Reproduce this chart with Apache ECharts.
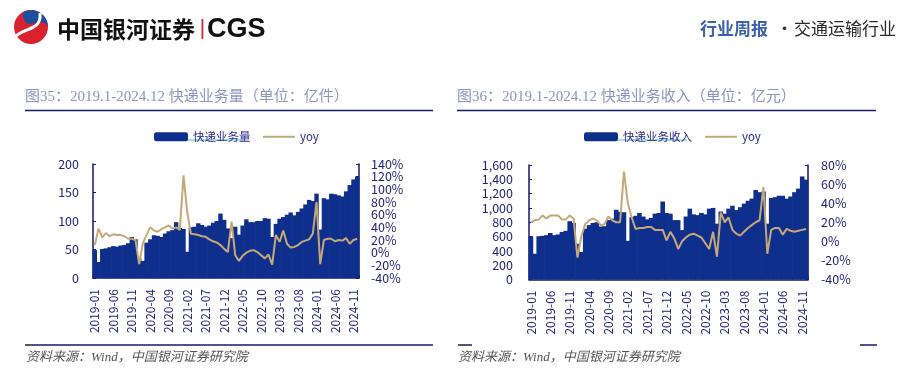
<!DOCTYPE html>
<html><head><meta charset="utf-8">
<script src="https://cdn.jsdelivr.net/npm/echarts/dist/echarts.min.js"></script>
<style>html,body{margin:0;padding:0;background:#fff}#c{width:919px;height:374px}</style>
</head><body><div id="c"></div>
<script>
const months = [
 '2019-01','2019-02','2019-03','2019-04','2019-05','2019-06','2019-07','2019-08','2019-09','2019-10','2019-11','2019-12',
 '2020-01','2020-02','2020-03','2020-04','2020-05','2020-06','2020-07','2020-08','2020-09','2020-10','2020-11','2020-12',
 '2021-01','2021-02','2021-03','2021-04','2021-05','2021-06','2021-07','2021-08','2021-09','2021-10','2021-11','2021-12',
 '2022-01','2022-02','2022-03','2022-04','2022-05','2022-06','2022-07','2022-08','2022-09','2022-10','2022-11','2022-12',
 '2023-01','2023-02','2023-03','2023-04','2023-05','2023-06','2023-07','2023-08','2023-09','2023-10','2023-11','2023-12',
 '2024-01','2024-02','2024-03','2024-04','2024-05','2024-06','2024-07','2024-08','2024-09','2024-10','2024-11','2024-12'];

// 快递业务量 (亿件)
const volume = [
 49, 28, 51, 52, 54, 56, 55, 57, 58, 61, 72, 68,
 35, 30, 62, 68, 75, 74, 72, 78, 82, 84, 98, 88,
 86, 46, 89, 90, 96, 93, 90, 92, 97, 100, 113, 102,
 87, 70, 90, 76, 92, 103, 98, 98, 100, 100, 105, 104,
 72, 95, 104, 107, 111, 115, 110, 116, 122, 129, 137, 135,
 148, 85, 140, 138, 148, 147, 145, 143, 152, 163, 173, 178];
const volumeYoy = [
 12, 38, 24, 31, 26, 29, 28, 28, 26, 22, 22, 20,
 -18, 15, 28, 40, 35, 33, 37, 40, 43, 38, 40, 36,
 122, 64, 30, 29, 28, 26, 25, 21, 18, 16, 12, 6,
 1, 49, -4, -13, -5, 0, 3, 4, 1, -4, -9, -3,
 -19, 28, 17, 35, 14, 8, 9, 12, 17, 19, 21, 30,
 80, -18, 20, 22, 22, 18, 20, 19, 23, 14, 20, 22];

// 快递业务收入 (亿元)
const revenue = [
 605, 360, 605, 610, 620, 650, 620, 630, 665, 680, 815, 790,
 500, 385, 710, 760, 790, 800, 740, 745, 830, 850, 975, 945,
 940, 540, 870, 890, 930, 880, 840, 860, 920, 930, 1090, 930,
 920, 830, 830, 690, 880, 990, 910, 900, 930, 910, 990, 1000,
 780, 950, 920, 990, 1030, 970, 1010, 1060, 1100, 1130, 1250, 1220,
 1230, 780, 1140, 1150, 1170, 1170, 1130, 1160, 1220, 1270, 1440, 1395];
const revenueYoy = [
 20, 22, 23, 27, 24, 27, 27, 27, 23, 23, 27, 24,
 -17, 5, 18, 22, 24, 22, 17, 18, 26, 22, 20, 20,
 73, 40, 25, 13, 14, 14, 15, 15, 12, 12, 12, 1,
 10, 3, -8, 0, 4, 7, 8, 6, 4, -2, -8, 10,
 -16, 30, 20, 25, 12, 8, 6, 10, 14, 17, 20, 22,
 57, -13, 12, 14, 14, 7, 13, 11, 10, 11, 12, 13];

const leftAxisRange = {min: 0, max: 200, interval: 50};
const leftYoyRange = {min: -40, max: 140, interval: 20};
const rightAxisRange = {min: 0, max: 1600, interval: 200};
const rightYoyRange = {min: -40, max: 80, interval: 20};

const FONT = '"Noto Sans CJK SC","Noto Sans",sans-serif';
const NAVY = '#23237e';
const AX = '#16166c';
const BAR = '#0e2f8c';
const LINE = '#c6a878';

function xAx(g) {
  return {type: 'category', gridIndex: g, data: months, boundaryGap: true,
    axisLine: {show: true, lineStyle: {color: AX, width: 1.5}},
    axisTick: {show: true, inside: true, length: 3, lineStyle: {color: AX},
      interval: function (i) { return i % 5 === 0 || i % 5 === 3; }},
    splitLine: {show: false}, splitArea: {show: false},
    axisLabel: {interval: 4, rotate: 90, fontSize: 12, color: NAVY, fontFamily: FONT, margin: 11}};
}
function yAx(g, r, pos, fmt, margin) {
  const a = {type: 'value', gridIndex: g, min: r.min, max: r.max, interval: r.interval, position: pos,
    axisLine: {show: true, lineStyle: {color: AX, width: 1.5}},
    axisTick: {show: true, inside: true, length: 3, lineStyle: {color: AX}},
    splitLine: {show: false}, splitArea: {show: false},
    axisLabel: {color: NAVY, fontSize: 12.5, fontFamily: FONT, margin: margin}};
  if (fmt) a.axisLabel.formatter = fmt;
  return a;
}
const pct = function (v) { return v + '%'; };
const thousands = function (v) { return v.toLocaleString('en-US'); };
const legendText = {color: '#2a2a88', fontSize: 11.5, fontFamily: FONT};

function txt(text, x, y, font, fill) {
  return {type: 'text', x: x, y: y, style: {text: text, font: font, fill: fill, textVerticalAlign: 'middle', verticalAlign: 'middle'}};
}
function hline(x1, x2, y, color, w) {
  return {type: 'line', shape: {x1: x1, y1: y, x2: x2, y2: y}, style: {stroke: color, lineWidth: w}};
}
// solid, touching columns drawn through the axes' own scales
function renderColumn(params, api) {
  const i = api.value(0);
  const v = api.value(1);
  const top = api.coord([i, v]);
  const base = api.coord([i, 0]);
  const w = api.size([1, 0])[0];
  return {type: 'rect', shape: {x: top[0] - w / 2 - 0.35, y: top[1], width: w + 0.7, height: base[1] - top[1]},
    style: {fill: BAR}};
}
function pairs(arr) { return arr.map(function (v, i) { return [i, v]; }); }

const chart = echarts.init(document.getElementById('c'), null, {renderer: 'canvas'});
chart.setOption({
  animation: false,
  backgroundColor: '#fff',
  grid: [
    {left: 93, top: 164, width: 266, height: 114},
    {left: 529, top: 165, width: 279, height: 114.5}
  ],
  xAxis: [xAx(0), xAx(1)],
  yAxis: [
    yAx(0, leftAxisRange, 'left', null, 14),
    yAx(0, leftYoyRange, 'right', pct, 12),
    yAx(1, rightAxisRange, 'left', thousands, 16),
    yAx(1, rightYoyRange, 'right', pct, 13)
  ],
  legend: [
    {left: 149, top: 126, itemWidth: 34, itemHeight: 9, icon: 'roundRect', data: ['快递业务量'], textStyle: legendText, selectedMode: false},
    {left: 258, top: 126, itemWidth: 32, itemHeight: 2, icon: 'rect', data: ['yoy'], textStyle: legendText, selectedMode: false},
    {left: 579, top: 126, itemWidth: 34, itemHeight: 9, icon: 'roundRect', data: ['快递业务收入'], textStyle: legendText, selectedMode: false},
    {left: 700, top: 126, itemWidth: 32, itemHeight: 2, icon: 'rect', data: ['yoy'], textStyle: legendText, selectedMode: false}
  ],
  series: [
    {name: '快递业务量', type: 'custom', xAxisIndex: 0, yAxisIndex: 0, data: pairs(volume), encode: {x: 0, y: 1}, renderItem: renderColumn, itemStyle: {color: BAR}, z: 2},
    {name: 'yoy', type: 'line', xAxisIndex: 0, yAxisIndex: 1, data: volumeYoy, symbol: 'none', lineStyle: {color: LINE, width: 2}, itemStyle: {color: LINE}, z: 5},
    {name: '快递业务收入', type: 'custom', xAxisIndex: 1, yAxisIndex: 2, data: pairs(revenue), encode: {x: 0, y: 1}, renderItem: renderColumn, itemStyle: {color: BAR}, z: 2},
    {name: 'yoy', type: 'line', xAxisIndex: 1, yAxisIndex: 3, data: revenueYoy, symbol: 'none', lineStyle: {color: LINE, width: 2}, itemStyle: {color: LINE}, z: 5}
  ],
  graphic: [
    // logo
    {type: 'circle', shape: {cx: 31, cy: 27, r: 17}, style: {fill: '#d8232f'}},
    {type: 'polygon', shape: {points: [[23, 12], [28, 10.3], [34, 10.3], [39.5, 12.3], [44, 16.1], [47, 21.2], [48, 27], [45, 23], [40, 22], [35, 23], [31, 24], [27, 23.5], [24, 20], [23, 16]]}, style: {fill: '#1d4f9f'}},
    {type: 'bezierCurve', shape: {x1: 15, y1: 37, cpx1: 24, cpy1: 27, cpx2: 42, cpy2: 31, x2: 40, y2: 13}, style: {stroke: '#fff', lineWidth: 3, fill: null}},
    txt('中国银河证券', 57, 29.5, 'bold 23px "Noto Sans CJK SC"', '#111'),
    {type: 'rect', shape: {x: 201.5, y: 19, width: 1.8, height: 20}, style: {fill: '#d8232f'}},
    txt('CGS', 207, 29.5, 'bold 27px "Liberation Sans"', '#111'),
    txt('行业周报', 700, 28.5, 'bold 17px "Noto Sans CJK SC"', '#3d62ab'),
    txt('·', 776, 28.5, '17px "Noto Sans CJK SC"', '#333'),
    txt('交通运输行业', 794, 28.5, '17px "Noto Sans CJK SC"', '#2a2a2a'),
    // titles
    txt('图35：2019.1-2024.12 快递业务量（单位：亿件）', 25, 97, '15px "Liberation Serif","Noto Sans CJK SC"', '#8a97bd'),
    txt('图36：2019.1-2024.12 快递业务收入（单位：亿元）', 457, 97, '15px "Liberation Serif","Noto Sans CJK SC"', '#8a97bd'),
    hline(25, 433, 110.5, '#1a1a66', 1.5),
    hline(457, 876, 110.5, '#1a1a66', 1.5),
    // legend underlines
    hline(187, 244, 140, '#45bfd0', 1),
    hline(618, 687, 140, '#45bfd0', 1),
    // bottom rules & sources
    hline(25, 433, 345, '#1a1a66', 1.5),
    hline(458, 472, 345, '#1a1a66', 1.5),
    hline(860, 877, 345, '#1a1a66', 1.5),
    txt('资料来源：Wind，中国银河证券研究院', 26, 358, 'italic 13px "Liberation Serif","Noto Sans CJK SC"', '#555'),
    txt('资料来源：Wind，中国银河证券研究院', 458, 358, 'italic 13px "Liberation Serif","Noto Sans CJK SC"', '#555')
  ]
});
</script></body></html>
